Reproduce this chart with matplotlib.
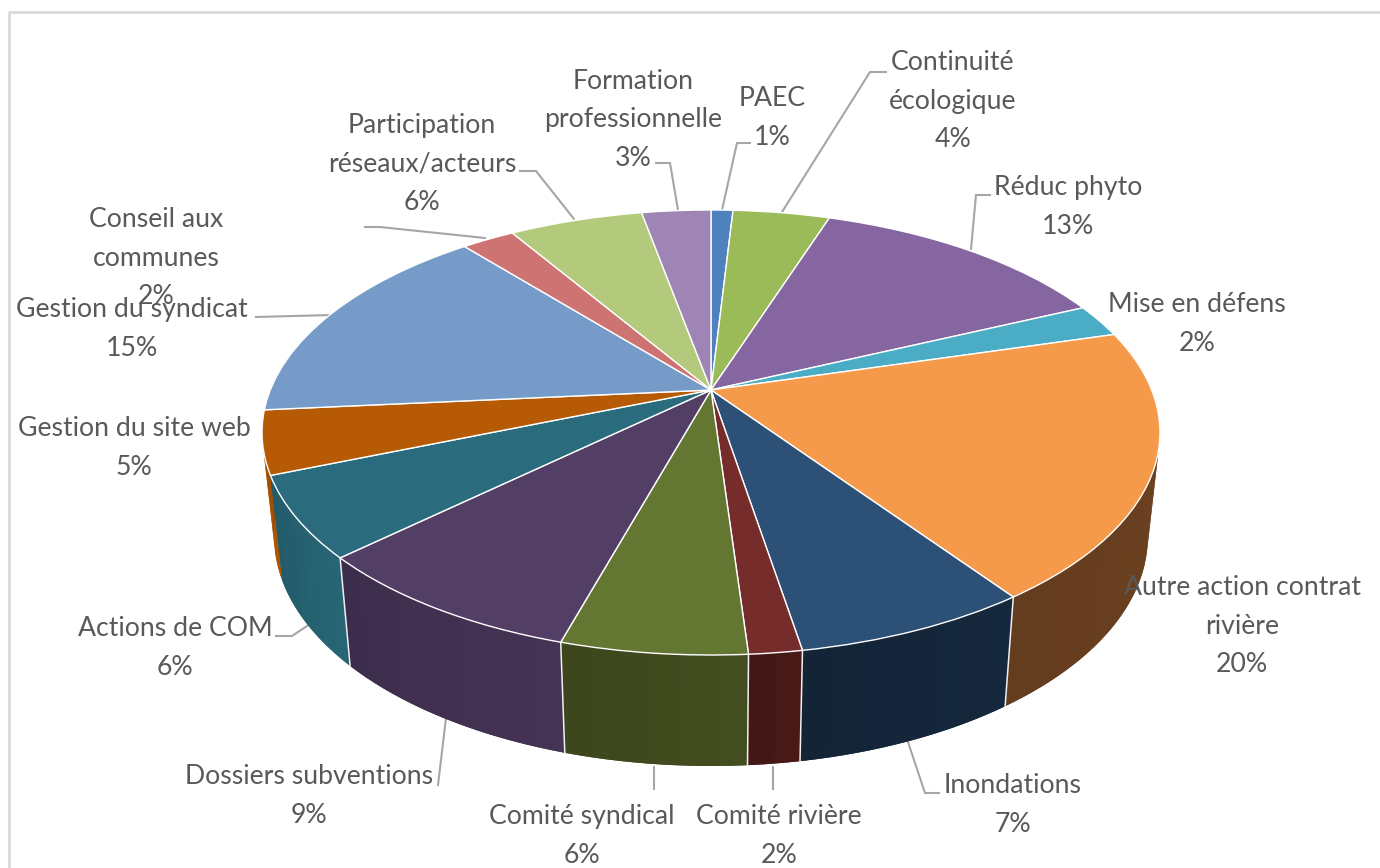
import numpy as np
import matplotlib
matplotlib.use("Agg")
import matplotlib.pyplot as plt
from matplotlib.colors import to_rgb
from matplotlib.transforms import Transform
from matplotlib.patches import Polygon

# ---- data ----
categories = ["PAEC", "Continuité\nécologique", "Réduc phyto", "Mise en défens",
              "Autre action contrat\nrivière", "Inondations", "Comité rivière",
              "Comité syndical", "Dossiers subventions", "Actions de COM",
              "Gestion du site web", "Gestion du syndicat", "Conseil aux\ncommunes",
              "Participation\nréseaux/acteurs", "Formation\nprofessionnelle"]
values = [0.95, 4.2, 13.1, 2.4, 19.6, 7.15, 1.6, 5.6, 8.6, 5.9, 4.6, 15.4, 2.3, 5.8, 3.0]
percents = [1, 4, 13, 2, 20, 7, 2, 6, 9, 6, 5, 15, 2, 6, 3]
top_colors = ["#4f81bd", "#9bbb59", "#8566a0", "#4bacc6", "#f59a4b", "#2d5076", "#772c2c",
              "#637733", "#533f65", "#2a6c7e", "#b65a06", "#769bc8", "#cd7371", "#b3ca7d", "#9f85b5"]
side_colors = ["#2f4d71", "#5d7035", "#4d3d61", "#2d6776", "#6a4020", "#15263a", "#451816",
               "#404a1e", "#413050", "#25606f", "#a85104", "#476180", "#7b4544", "#6b794b", "#5f506d"]

# label centre x, block centre y (pixels of the 1380x868 picture)
label_pos = [(772, 118), (953, 101), (1068, 207), (1197, 324), (1242, 626), (1013, 805),
             (779, 836), (582, 836), (309, 796), (175, 648), (134, 448), (132, 329),
             (156, 258), (422, 164), (633, 120)]
leaders = [[(722, 210), (737, 143), (750, 143)],
           [(782, 212), (870, 72), (886, 72)],
           [(971, 249), (976, 195), (990, 195)],
           [(908, 742), (925, 793), (939, 793)],
           [(773, 767), (773, 789)],
           [(654, 767), (654, 789)],
           [(446, 718), (438, 785)],
           [(310, 624), (292, 636), (276, 636)],
           [(332, 315), (256, 317)],
           [(485, 238), (380, 227), (365, 227)],
           [(574, 219), (536, 171), (520, 171)],
           [(678, 210), (670, 163), (656, 163)]]

# ---- projection of the unit disc to picture pixels ----
CX, CY, PA, PB, PC = 711.0, 390.0, 214.4, 440.7, 0.191


def project_top(xy):
    xy = np.asarray(xy, float)
    d = 1 + PC * xy[..., 1]
    return np.stack([CX + PB * xy[..., 0] / d, CY - PA * xy[..., 1] / d], axis=-1)


def project_bottom(xy):
    p = project_top(xy)
    return np.stack([CX + 0.973 * (p[..., 0] - CX), 767 + 1.03 * (p[..., 1] - 656)], axis=-1)


class TopDisc(Transform):
    input_dims = output_dims = 2
    is_separable = False
    has_inverse = False

    def transform_non_affine(self, values):
        return project_top(values)


fig = plt.figure(figsize=(13.8, 8.68), dpi=100, facecolor="white")
ax = fig.add_axes([0, 0, 1, 1])

wedges, _ = ax.pie(values, colors=top_colors, startangle=90, counterclock=False,
                   wedgeprops=dict(edgecolor="white", linewidth=1.0, zorder=5))
ax.set_aspect("auto")
ax.set_xlim(0, 1380)
ax.set_ylim(868, 0)
ax.axis("off")
top_tf = TopDisc() + ax.transData
for w in wedges:
    w.set_transform(top_tf)


# ---- side wall, drawn from the same slice angles ----
def rim(t):
    r = np.radians(t)
    return np.stack([np.sin(r), np.cos(r)], axis=-1)


def band(t0, t1):
    tt = np.linspace(t0, t1, max(3, int((t1 - t0) / 1.5) + 1))
    return np.vstack([project_top(rim(tt)), project_bottom(rim(tt))[::-1]])


edges = 360 * np.cumsum([0] + values) / sum(values)
spans = []
for i in range(len(values)):
    lo, hi = max(edges[i], 70), min(edges[i + 1], 285)
    if hi > lo:
        spans.append((lo, hi, i))
spans.sort(key=lambda s: -abs((s[0] + s[1]) / 2 - 180))

z = 2.0
for lo, hi, i in spans:
    base = np.array(to_rgb(side_colors[i]))
    ax.add_patch(Polygon(band(lo, hi), closed=True, facecolor=base, edgecolor="none", zorder=z))
    n = max(2, int((hi - lo) / 3))
    th = np.linspace(lo, hi, n + 1)
    for k in range(n):
        col = np.clip(base * (1.06 - 0.12 * (k + 0.5) / n), 0, 1)
        ax.add_patch(Polygon(band(th[k], th[k + 1]), closed=True, facecolor=col,
                             edgecolor="none", zorder=z + 0.001))
    z += 0.01

for e in edges:
    if 100 < e < 240:
        u = project_top(rim(e))
        d = project_bottom(rim(e))
        ax.plot([u[0], d[0]], [u[1], d[1]], color="#f0f0f0", lw=1.1, zorder=3.5)

# ---- leaders, labels, frame ----
for path in leaders:
    xs, ys = zip(*path)
    ax.plot(xs, ys, color="#a6a6a6", lw=1.5, zorder=1, solid_joinstyle="miter")

for name, pct, (x, y) in zip(categories, percents, label_pos):
    ax.text(x, y, f"{name}\n{pct}%", ha="center", va="center", family="Lato",
            fontsize=19.2, color="#595959", linespacing=1.67, zorder=8)

ax.plot([1380, 9, 9], [12, 12, 868], color="#d9d9d9", lw=2.0, zorder=0)

fig.savefig("out.png", dpi=100, facecolor="white")
